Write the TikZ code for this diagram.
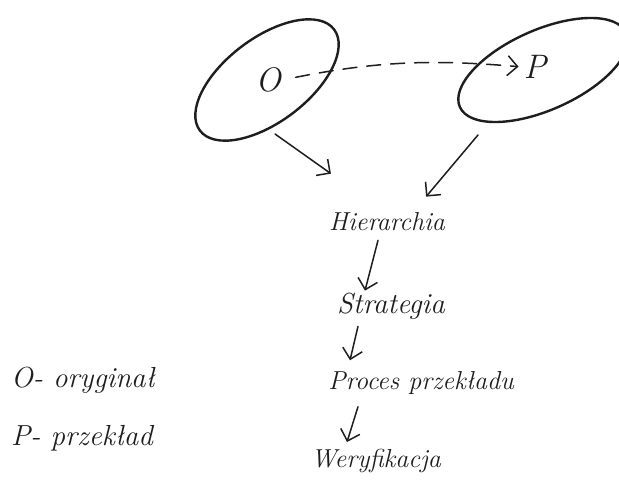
\documentclass[tikz,border=0pt]{standalone}
\usepackage{tikz}
\usetikzlibrary{arrows.meta,calc}
\definecolor{ink}{HTML}{1E1E1E}

\begin{document}
\begin{tikzpicture}[x=1pt,y=-1pt,
  word/.style={font=\fontsize{26}{30}\selectfont\itshape,text=ink,inner sep=1pt},
  big/.style={font=\fontsize{29}{34}\selectfont\itshape},
  letter/.style={font=\fontsize{34}{38}\selectfont\itshape,text=ink,inner sep=1pt},
  pen/.style={ink,line width=1.5pt,line cap=round,-{Straight Barb[length=10pt,width=20pt,line width=1.5pt]}}]
  \clip (0,0) rectangle (619,484);
  \fill[white] (0,0) rectangle (619,484);
  % the two sets
  \draw[ink,line width=2.4pt,rotate around={37:(267,80)}] (267,80) ellipse [x radius=84pt,y radius=42pt];
  \draw[ink,line width=2.4pt,rotate around={24:(543,70)}] (543,70) ellipse [x radius=91pt,y radius=40pt];
  \node[letter] (O) at (268,80) {O};
  \node[letter] (P) at (535,67) {P};
  % the chain
  \node[word] (hier) at (387,222) {Hierarchia};
  \node[word,big] (strat) at (391,306) {Strategia};
  \node[word] (proc) at (421,383) {Proces przekładu};
  \node[word] (wer) at (376,461) {Weryfikacja};
  % legend
  \node[word,big,anchor=west] (legO) at (10,380) {O- oryginał};
  \node[word,big,anchor=west] (legP) at (10,438) {P- przekład};
  % arrows
  \coordinate (oFoot) at (275,134);
  \coordinate (pFoot) at (478,135);
  \draw[pen,dashed,dash pattern=on 14pt off 10pt,shorten <=14pt,shorten >=4pt] (O.east) to[bend left=8] (P.west);
  \draw[pen] (oFoot) -- ($(hier.north west)+(3,-38)$);
  \draw[pen] (pFoot) -- ($(hier.north east)+(-20,-15)$);
  \draw[pen] ($(hier.south)+(-9,8)$) -- ($(strat.north)+(-26,-1)$);
  \draw[pen] ($(strat.south)+(-33,6)$) -- ($(proc.north)+(-71,-10)$);
  \draw[pen] ($(proc.south)+(-63,11)$) -- ($(wer.north)+(-29,-6)$);
\end{tikzpicture}
\end{document}
